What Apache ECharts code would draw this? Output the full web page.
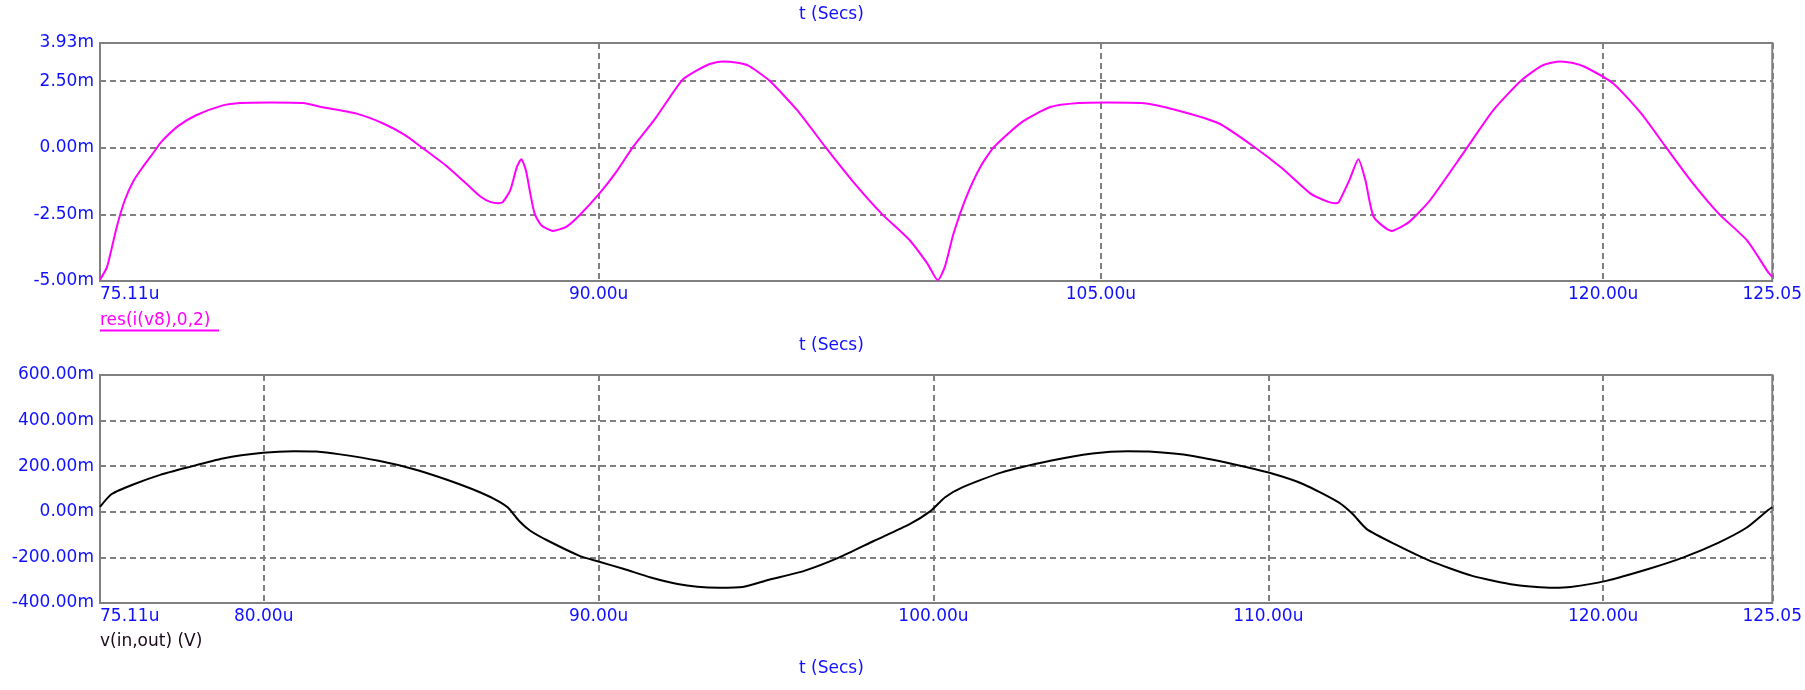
<!DOCTYPE html>
<html>
<head>
<meta charset="utf-8">
<script src="https://cdn.jsdelivr.net/npm/echarts@6/dist/echarts.min.js"></script>
<style>
html,body{margin:0;padding:0;background:#fff;}
#chart{width:1805px;height:690px;}
</style>
</head>
<body>
<div id="chart"></div>
<script>
// ---- Top panel: res(i(v8),0,2) (values in m) ----
const tTop = [75.11,75.32,75.61,75.85,76.12,76.39,76.72,76.94,77.45,77.98,78.78,79.3,80.2,81.18,81.71,82.77,83.57,84.22,84.70,85.43,86.10,86.49,86.76,87.0,87.13,87.36,87.56,87.69,87.83,87.96,88.09,88.29,88.63,89.03,89.43,90.02,90.49,91.03,91.69,92.49,92.95,93.35,93.73,94.10,94.46,95.09,95.93,96.77,97.61,98.45,99.29,99.82,100.13,100.34,100.60,100.98,101.40,101.81,102.65,103.49,104.33,105.2,106.22,107.27,108.53,109.58,110.42,111.26,111.79,112.0,112.10,112.42,112.69,112.90,113.15,113.68,114.20,114.83,115.88,116.72,117.56,118.19,118.72,119.10,119.46,120.30,121.14,121.87,122.61,123.45,124.29,124.92,125.05];
const resI = [-4.95,-4.47,-2.97,-1.97,-1.22,-0.72,-0.16,0.22,0.82,1.22,1.59,1.68,1.70,1.68,1.53,1.28,0.91,0.47,0.03,-0.66,-1.41,-1.85,-2.03,-2.08,-2.05,-1.60,-0.72,-0.43,-0.85,-1.72,-2.47,-2.91,-3.12,-2.97,-2.53,-1.72,-0.97,0.03,1.09,2.53,2.91,3.15,3.24,3.20,3.09,2.53,1.41,0.03,-1.29,-2.47,-3.47,-4.35,-4.97,-4.47,-3.22,-1.85,-0.72,0.03,0.97,1.53,1.68,1.70,1.68,1.41,0.91,0.03,-0.78,-1.72,-2.03,-2.08,-2.05,-1.22,-0.43,-1.22,-2.60,-3.12,-2.79,-1.97,-0.10,1.41,2.53,3.09,3.24,3.18,3.03,2.41,1.28,0.03,-1.22,-2.47,-3.47,-4.66,-4.85];

// ---- Bottom panel: v(in,out) (values in m) ----
const tBot = [75.11,75.46,76.12,76.91,77.71,78.78,79.98,80.9,81.57,82.23,83.43,84.49,85.43,86.22,86.89,87.29,87.62,87.96,88.49,89.43,90.02,90.76,91.56,92.36,92.95,93.6,94.3,95.09,96.14,97.19,98.23,99.29,99.92,100.34,100.86,102.02,103.49,104.75,105.8,106.43,107.70,108.96,110.01,111.05,112.10,112.52,112.94,113.78,114.83,116.09,117.35,118.5,119.03,120.09,121.35,122.40,123.45,124.29,124.92,125.05];
const vInOut = [22,78,121,162,194,234,259,266,264,253,224,187,143,100,56,19,-39,-83,-127,-193,-219,-251,-288,-317,-329,-333,-330,-298,-259,-200,-127,-54,4,63,107,172,224,256,266,264,246,209,172,121,41,-10,-76,-142,-215,-281,-320,-333,-330,-303,-251,-200,-135,-69,7,20];

// ---- Tick values and labels ----
const xTicksTop = [75.11, 90, 105, 120, 125.05];
const xLabelsTop = ['75.11u','90.00u','105.00u','120.00u','125.05'];
const xTicksBot = [75.11, 80, 90, 100, 110, 120, 125.05];
const xLabelsBot = ['75.11u','80.00u','90.00u','100.00u','110.00u','120.00u','125.05'];
const yTicksTop = [-5, -2.5, 0, 2.5, 3.93];
const yLabelsTop = ['-5.00m','-2.50m','0.00m','2.50m','3.93m'];
const yTicksBot = [-400, -200, 0, 200, 400, 600];
const yLabelsBot = ['-400.00m','-200.00m','0.00m','200.00m','400.00m','600.00m'];

const BLUE = '#1010ff';
const GRID = '#808080';
const FONT = 'DejaVu Sans';
const FS = 17;

function lbl(ticks, labels) {
  return function (v) {
    for (let i = 0; i < ticks.length; i++) if (Math.abs(ticks[i] - v) < 1e-6) return labels[i];
    return '';
  };
}
function xAxisDef(gi, ticks, labels) {
  return {
    type: 'value', gridIndex: gi, min: 75.11, max: 125.05,
    axisLine: {show: false},
    axisTick: {show: false, customValues: ticks},
    axisLabel: {customValues: ticks, formatter: lbl(ticks, labels), color: BLUE, fontFamily: FONT, fontSize: FS, margin: 5, alignMinLabel: 'left', hideOverlap: false},
    splitLine: {show: true, lineStyle: {color: GRID, width: 2, type: [6, 4]}}
  };
}
function yAxisDef(gi, ticks, labels, min, max) {
  return {
    type: 'value', gridIndex: gi, min: min, max: max,
    axisLine: {show: false},
    axisTick: {show: false, customValues: ticks},
    axisLabel: {customValues: ticks, formatter: lbl(ticks, labels), color: BLUE, fontFamily: FONT, fontSize: FS, margin: 6, hideOverlap: false},
    splitLine: {show: true, lineStyle: {color: GRID, width: 2, type: [6, 4]}}
  };
}
function zip(a, b) { return a.map((x, i) => [x, b[i]]); }

const chart = echarts.init(document.getElementById('chart'), null, {renderer: 'canvas'});
const titleStyle = {fill: BLUE, font: FS + 'px "' + FONT + '"'};
chart.setOption({
  animation: false,
  backgroundColor: '#ffffff',
  grid: [
    {left: 100, top: 43, width: 1675, height: 238, show: true, borderColor: GRID, borderWidth: 2, containLabel: false},
    {left: 100, top: 375, width: 1675, height: 228, show: true, borderColor: GRID, borderWidth: 2, containLabel: false}
  ],
  xAxis: [xAxisDef(0, xTicksTop, xLabelsTop), xAxisDef(1, xTicksBot, xLabelsBot)],
  yAxis: [yAxisDef(0, yTicksTop, yLabelsTop, -5, 3.93), yAxisDef(1, yTicksBot, yLabelsBot, -400, 600)],
  series: [
    {type: 'line', xAxisIndex: 0, yAxisIndex: 0, data: zip(tTop, resI), showSymbol: false, smooth: 0.2,
     lineStyle: {color: '#ff00ff', width: 2}, itemStyle: {color: '#ff00ff'}},
    {type: 'line', xAxisIndex: 1, yAxisIndex: 1, data: zip(tBot, vInOut), showSymbol: false, smooth: 0.2,
     lineStyle: {color: '#000000', width: 2}, itemStyle: {color: '#000000'}}
  ],
  graphic: [
    {type: 'text', left: 799, top: 6, style: Object.assign({text: 't (Secs)'}, titleStyle)},
    {type: 'text', left: 799, top: 337, style: Object.assign({text: 't (Secs)'}, titleStyle)},
    {type: 'text', left: 799, top: 660, style: Object.assign({text: 't (Secs)'}, titleStyle)},
    {type: 'text', left: 100, top: 312, style: {text: 'res(i(v8),0,2)', fill: '#ff00ff', font: FS + 'px "' + FONT + '"'}},
    {type: 'line', shape: {x1: 100, y1: 330.5, x2: 219, y2: 330.5}, style: {stroke: '#ff00ff', lineWidth: 2}},
    {type: 'text', left: 100, top: 633, style: {text: 'v(in,out) (V)', fill: '#1a0a1a', font: FS + 'px "' + FONT + '"'}}
  ]
});
</script>
</body>
</html>
